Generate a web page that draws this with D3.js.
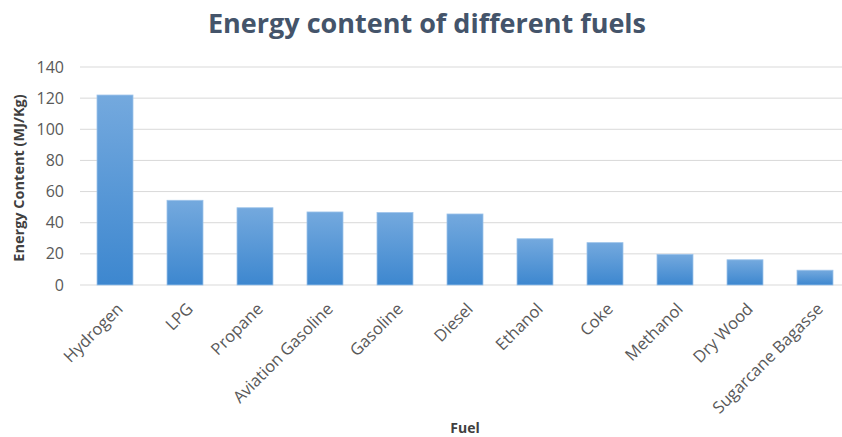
<!DOCTYPE html>
<html>
<head>
<meta charset="utf-8">
<script src="https://cdn.jsdelivr.net/npm/d3@7"></script>
<style>
  body { margin: 0; background: #fff; }
  text { font-family: "Open Sans", sans-serif; }
</style>
</head>
<body>
<svg id="chart" width="842" height="437"></svg>
<script>
// data
const fuels = ["Hydrogen", "LPG", "Propane", "Aviation Gasoline", "Gasoline", "Diesel",
  "Ethanol", "Coke", "Methanol", "Dry Wood", "Sugarcane Bagasse"];
const energy = [122, 54.4, 49.6, 46.9, 46.5, 45.6, 29.7, 27.2, 19.7, 16.2, 9.5];
const yTicks = [0, 20, 40, 60, 80, 100, 120, 140];

const svg = d3.select("#chart");
const plotLeft = 80, plotRight = 850, plotTop = 67, plotBottom = 285;

const x = d3.scaleBand().domain(fuels).range([plotLeft, plotRight]).paddingInner(0.486).paddingOuter(0.243);
const y = d3.scaleLinear().domain([0, 140]).range([plotBottom, plotTop]);

// gradient for the bars
const grad = svg.append("defs").append("linearGradient")
  .attr("id", "barGrad").attr("x1", 0).attr("y1", 0).attr("x2", 0).attr("y2", 1);
grad.append("stop").attr("offset", "0%").attr("stop-color", "#74a9de");
grad.append("stop").attr("offset", "100%").attr("stop-color", "#3d87cf");

// gridlines
svg.append("g").selectAll("line")
  .data(yTicks)
  .enter()
  .append("line")
  .attr("x1", plotLeft).attr("x2", 842)
  .attr("y1", d => y(d)).attr("y2", d => y(d))
  .attr("stroke", "#d9d9d9").attr("stroke-width", 1);

// y axis labels
const yAxis = d3.axisLeft(y).tickValues(yTicks).tickSize(0).tickPadding(16);
const gy = svg.append("g").attr("transform", `translate(${plotLeft},0)`).call(yAxis);
gy.select(".domain").remove();
gy.selectAll("text").attr("fill", "#595959").style("font-size", "16px")
  .style("font-family", "Open Sans, sans-serif");

// bars
svg.append("g").selectAll("rect")
  .data(fuels)
  .enter()
  .append("rect")
  .attr("x", d => x(d))
  .attr("y", (d, i) => y(energy[i]))
  .attr("width", x.bandwidth())
  .attr("height", (d, i) => y(0) - y(energy[i]))
  .attr("fill", "url(#barGrad)")
  .attr("stroke", "#9cc3ea").attr("stroke-width", 0.8);

// x axis labels, rotated
const xAxis = d3.axisBottom(x).tickSize(0).tickPadding(0);
const gx = svg.append("g").attr("transform", `translate(0,${plotBottom})`).call(xAxis);
gx.select(".domain").remove();
gx.selectAll("text")
  .attr("fill", "#595959").style("font-size", "16.5px")
  .style("font-family", "Open Sans, sans-serif")
  .attr("text-anchor", "end")
  .attr("dy", 0).attr("y", 0)
  .attr("transform", "translate(9,25) rotate(-45)");

// title
svg.append("text")
  .attr("x", 427).attr("y", 33)
  .attr("text-anchor", "middle")
  .attr("fill", "#44546a")
  .style("font-size", "27px").style("font-weight", "bold")
  .text("Energy content of different fuels");

// axis titles
svg.append("text")
  .attr("transform", "translate(24,178) rotate(-90)")
  .attr("text-anchor", "middle")
  .attr("fill", "#404040")
  .style("font-size", "14.5px").style("font-weight", "bold")
  .text("Energy Content (MJ/Kg)");

svg.append("text")
  .attr("x", 465).attr("y", 433)
  .attr("text-anchor", "middle")
  .attr("fill", "#404040")
  .style("font-size", "14px").style("font-weight", "bold")
  .text("Fuel");
</script>
</body>
</html>
